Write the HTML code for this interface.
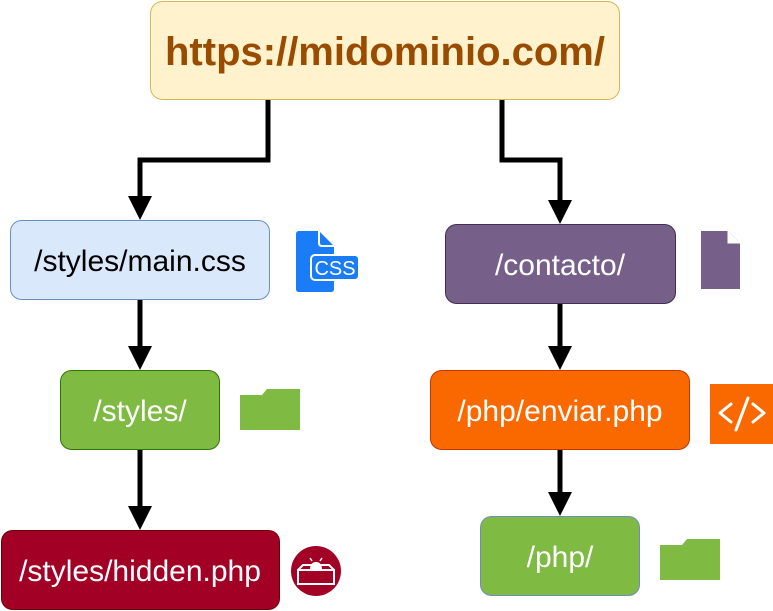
<!DOCTYPE html>
<html><head><meta charset="utf-8"><style>html,body{margin:0;padding:0;background:#fff}svg{display:block}</style></head>
<body>
<svg width="773" height="611" viewBox="0 0 773 611" xmlns="http://www.w3.org/2000/svg" font-family="Liberation Sans, sans-serif">
<g fill="none" stroke="#000" stroke-width="5">
<polyline points="268,100 268,160 140,160 140,200"/>
<polyline points="502,100 502,160 560,160 560,204"/>
<line x1="140" y1="300" x2="140" y2="350"/>
<line x1="140" y1="450" x2="140" y2="510"/>
<line x1="560" y1="304" x2="560" y2="350"/>
<line x1="560" y1="450" x2="560" y2="496"/>
</g>
<g fill="#000">
<polygon points="128,196 152,196 140,220"/>
<polygon points="548,200 572,200 560,224"/>
<polygon points="128,346 152,346 140,370"/>
<polygon points="128,506 152,506 140,530"/>
<polygon points="548,346 572,346 560,370"/>
<polygon points="548,492 572,492 560,516"/>
</g>
<rect x="150.5" y="1.5" width="469" height="98" rx="12" fill="#fff2cc" stroke="#d6b656"/>
<text x="385" y="65" text-anchor="middle" font-size="40" font-weight="bold" fill="#994c00">https://midominio.com/</text>
<rect x="10.5" y="220.5" width="259" height="79" rx="11" fill="#dae8fc" stroke="#6c8ebf"/>
<text x="140" y="271" text-anchor="middle" font-size="30" fill="#000">/styles/main.css</text>
<rect x="60.5" y="370.5" width="159" height="79" rx="11" fill="#7fba42" stroke="#2d7600"/>
<text x="140" y="421" text-anchor="middle" font-size="30" fill="#fff">/styles/</text>
<rect x="1.5" y="530.5" width="278" height="79" rx="11" fill="#a20025" stroke="#6f0000"/>
<text x="140" y="581" text-anchor="middle" font-size="30" fill="#fff">/styles/hidden.php</text>
<rect x="445.5" y="224.5" width="230" height="79" rx="11" fill="#76608a" stroke="#432d57"/>
<text x="560" y="275" text-anchor="middle" font-size="30" fill="#fff">/contacto/</text>
<rect x="430.5" y="370.5" width="259" height="79" rx="11" fill="#fa6800" stroke="#c73500"/>
<text x="560" y="421" text-anchor="middle" font-size="30" fill="#fff">/php/enviar.php</text>
<rect x="480.5" y="516.5" width="159" height="79" rx="11" fill="#7fba42" stroke="#6c8ebf"/>
<text x="560" y="567" text-anchor="middle" font-size="30" fill="#fff">/php/</text>
<path d="M296,234 q0,-3 3,-3 h20 l15,15 v43 q0,3 -3,3 h-32 q-3,0 -3,-3 z" fill="#1a7cf7"/>
<path d="M319,231 v12 q0,3 3,3 h12" fill="none" stroke="#fff" stroke-width="2"/>
<rect x="311" y="255" width="48" height="25" rx="4" fill="#1a7cf7" stroke="#fff" stroke-width="2"/>
<text x="335" y="275" text-anchor="middle" font-size="20" fill="#fff">CSS</text>
<path d="M240,395 h60 v35 h-60 z M262,395 l5,-6 h33 v6 z" fill="#7fba42"/>
<path d="M660,545 h60 v35 h-60 z M682,545 l5,-6 h33 v6 z" fill="#7fba42"/>
<path d="M701,231 h27 l12,12 v46 h-39 z" fill="#76608a"/>
<path d="M728,231 v12 h12" fill="#fff" stroke="#fff" stroke-width="1"/>
<rect x="710" y="384" width="63" height="60" fill="#fa6800"/>
<g fill="none" stroke="#fff" stroke-width="3" stroke-linecap="round" stroke-linejoin="round">
<polyline points="731,404 720,413 731,422"/><polyline points="753,404 764,413 753,422"/><line x1="748" y1="398" x2="736" y2="430"/>
</g>
<circle cx="316" cy="571" r="25" fill="#a20025"/>
<rect x="298" y="570" width="36" height="14" fill="none" stroke="#fff" stroke-width="2"/>
<path d="M310,570 q0,-8 6,-8 q6,0 6,8 z" fill="#fff"/>
<path d="M298,570 l5,-5 h26 l5,5" fill="none" stroke="#fff" stroke-width="2"/>
<g stroke="#fff" stroke-width="1.5"><line x1="312" y1="561" x2="310" y2="558"/><line x1="320" y1="561" x2="322" y2="558"/></g>
</svg>
</body></html>
